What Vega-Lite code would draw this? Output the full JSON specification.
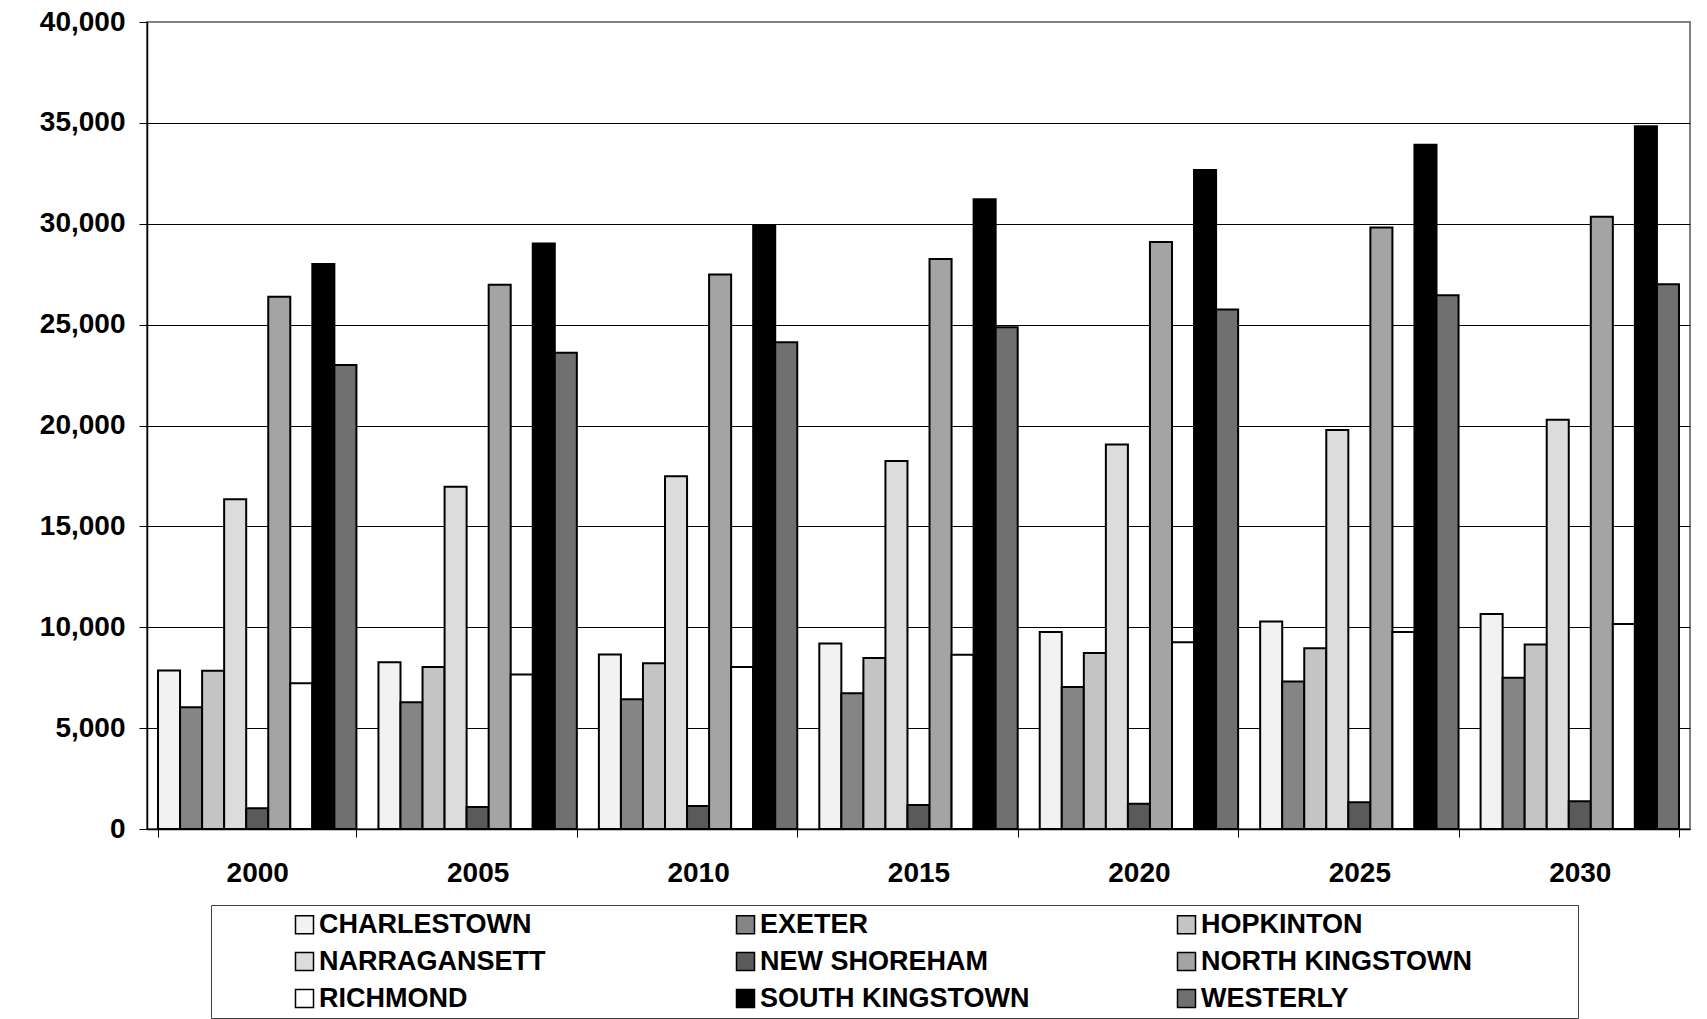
{
  "$schema": "https://vega.github.io/schema/vega-lite/v6.json",
  "autosize": "none",
  "width": 1543,
  "height": 807,
  "padding": {"left": 147, "top": 22, "right": 17, "bottom": 190},
  "background": "white",
  "config": {
    "font": "Liberation Sans",
    "view": {"stroke": "#808080", "strokeWidth": 2}
  },
  "data": {
    "values": [
      {"year": "2000", "town": "CHARLESTOWN", "pop": 7860},
      {"year": "2000", "town": "EXETER", "pop": 6030},
      {"year": "2000", "town": "HOPKINTON", "pop": 7850},
      {"year": "2000", "town": "NARRAGANSETT", "pop": 16350},
      {"year": "2000", "town": "NEW SHOREHAM", "pop": 1030},
      {"year": "2000", "town": "NORTH KINGSTOWN", "pop": 26380},
      {"year": "2000", "town": "RICHMOND", "pop": 7220},
      {"year": "2000", "town": "SOUTH KINGSTOWN", "pop": 28000},
      {"year": "2000", "town": "WESTERLY", "pop": 23000},
      {"year": "2005", "town": "CHARLESTOWN", "pop": 8270},
      {"year": "2005", "town": "EXETER", "pop": 6280},
      {"year": "2005", "town": "HOPKINTON", "pop": 8030},
      {"year": "2005", "town": "NARRAGANSETT", "pop": 16960},
      {"year": "2005", "town": "NEW SHOREHAM", "pop": 1090},
      {"year": "2005", "town": "NORTH KINGSTOWN", "pop": 26980},
      {"year": "2005", "town": "RICHMOND", "pop": 7660},
      {"year": "2005", "town": "SOUTH KINGSTOWN", "pop": 29020},
      {"year": "2005", "town": "WESTERLY", "pop": 23600},
      {"year": "2010", "town": "CHARLESTOWN", "pop": 8650},
      {"year": "2010", "town": "EXETER", "pop": 6430},
      {"year": "2010", "town": "HOPKINTON", "pop": 8210},
      {"year": "2010", "town": "NARRAGANSETT", "pop": 17480},
      {"year": "2010", "town": "NEW SHOREHAM", "pop": 1140},
      {"year": "2010", "town": "NORTH KINGSTOWN", "pop": 27480},
      {"year": "2010", "town": "RICHMOND", "pop": 8030},
      {"year": "2010", "town": "SOUTH KINGSTOWN", "pop": 29900},
      {"year": "2010", "town": "WESTERLY", "pop": 24130},
      {"year": "2015", "town": "CHARLESTOWN", "pop": 9200},
      {"year": "2015", "town": "EXETER", "pop": 6730},
      {"year": "2015", "town": "HOPKINTON", "pop": 8480},
      {"year": "2015", "town": "NARRAGANSETT", "pop": 18240},
      {"year": "2015", "town": "NEW SHOREHAM", "pop": 1190},
      {"year": "2015", "town": "NORTH KINGSTOWN", "pop": 28250},
      {"year": "2015", "town": "RICHMOND", "pop": 8640},
      {"year": "2015", "town": "SOUTH KINGSTOWN", "pop": 31220},
      {"year": "2015", "town": "WESTERLY", "pop": 24870},
      {"year": "2020", "town": "CHARLESTOWN", "pop": 9760},
      {"year": "2020", "town": "EXETER", "pop": 7040},
      {"year": "2020", "town": "HOPKINTON", "pop": 8720},
      {"year": "2020", "town": "NARRAGANSETT", "pop": 19060},
      {"year": "2020", "town": "NEW SHOREHAM", "pop": 1250},
      {"year": "2020", "town": "NORTH KINGSTOWN", "pop": 29100},
      {"year": "2020", "town": "RICHMOND", "pop": 9260},
      {"year": "2020", "town": "SOUTH KINGSTOWN", "pop": 32660},
      {"year": "2020", "town": "WESTERLY", "pop": 25750},
      {"year": "2025", "town": "CHARLESTOWN", "pop": 10290},
      {"year": "2025", "town": "EXETER", "pop": 7310},
      {"year": "2025", "town": "HOPKINTON", "pop": 8960},
      {"year": "2025", "town": "NARRAGANSETT", "pop": 19780},
      {"year": "2025", "town": "NEW SHOREHAM", "pop": 1330},
      {"year": "2025", "town": "NORTH KINGSTOWN", "pop": 29820},
      {"year": "2025", "town": "RICHMOND", "pop": 9760},
      {"year": "2025", "town": "SOUTH KINGSTOWN", "pop": 33910},
      {"year": "2025", "town": "WESTERLY", "pop": 26460},
      {"year": "2030", "town": "CHARLESTOWN", "pop": 10660},
      {"year": "2030", "town": "EXETER", "pop": 7500},
      {"year": "2030", "town": "HOPKINTON", "pop": 9140},
      {"year": "2030", "town": "NARRAGANSETT", "pop": 20280},
      {"year": "2030", "town": "NEW SHOREHAM", "pop": 1380},
      {"year": "2030", "town": "NORTH KINGSTOWN", "pop": 30350},
      {"year": "2030", "town": "RICHMOND", "pop": 10160},
      {"year": "2030", "town": "SOUTH KINGSTOWN", "pop": 34830},
      {"year": "2030", "town": "WESTERLY", "pop": 27000}
    ]
  },
  "mark": {"type": "bar", "stroke": "black", "strokeWidth": 2},
  "encoding": {
    "x": {
      "field": "year",
      "type": "nominal",
      "title": null,
      "scale": {"paddingInner": 0.1, "paddingOuter": 0.05},
      "axis": {
        "labelAngle": 0,
        "labelFontSize": 28,
        "labelFontWeight": "bold",
        "labelColor": "black",
        "labelPadding": 22,
        "tickBand": "extent",
        "tickSize": 8,
        "tickColor": "black",
        "tickWidth": 1,
        "domainColor": "black",
        "domainWidth": 1.5,
        "grid": false
      }
    },
    "xOffset": {
      "field": "town",
      "type": "nominal",
      "sort": ["CHARLESTOWN", "EXETER", "HOPKINTON", "NARRAGANSETT", "NEW SHOREHAM", "NORTH KINGSTOWN", "RICHMOND", "SOUTH KINGSTOWN", "WESTERLY"],
      "scale": {"paddingInner": 0, "paddingOuter": 0}
    },
    "y": {
      "field": "pop",
      "type": "quantitative",
      "title": null,
      "scale": {"domain": [0, 40000], "nice": false},
      "axis": {
        "values": [0, 5000, 10000, 15000, 20000, 25000, 30000, 35000, 40000],
        "format": ",.0f",
        "labelFontSize": 28,
        "labelFontWeight": "bold",
        "labelColor": "black",
        "labelPadding": 14,
        "tickSize": 8,
        "tickColor": "black",
        "tickWidth": 1,
        "domainColor": "black",
        "domainWidth": 1.5,
        "grid": true,
        "gridColor": {"condition": {"test": "datum.value === 40000", "value": "#808080"}, "value": "black"},
        "gridWidth": 1
      }
    },
    "fill": {
      "field": "town",
      "type": "nominal",
      "scale": {
        "domain": ["CHARLESTOWN", "EXETER", "HOPKINTON", "NARRAGANSETT", "NEW SHOREHAM", "NORTH KINGSTOWN", "RICHMOND", "SOUTH KINGSTOWN", "WESTERLY"],
        "range": ["#f2f2f2", "#858585", "#c4c4c4", "#dcdcdc", "#5a5a5a", "#a4a4a4", "#ffffff", "#000000", "#707070"]
      },
      "legend": {
        "orient": "none",
        "legendX": 64,
        "legendY": 883,
        "direction": "horizontal",
        "columns": 3,
        "gridAlign": "all",
        "columnPadding": 42,
        "rowPadding": 9,
        "padding": 6,
        "title": "\u00a0",
        "titleOrient": "left",
        "titleFontSize": 10,
        "titlePadding": 74,
        "symbolType": "square",
        "symbolSize": 324,
        "symbolStrokeColor": "black",
        "symbolStrokeWidth": 1.5,
        "labelOffset": 1,
        "labelFontSize": 27,
        "labelFontWeight": "bold",
        "labelColor": "black",
        "labelLimit": 0,
        "labelExpr": "datum.label + '\u2800\u2800\u2800\u2800\u2800'",
        "fillColor": "white",
        "strokeColor": "#404040"
      }
    }
  }
}
